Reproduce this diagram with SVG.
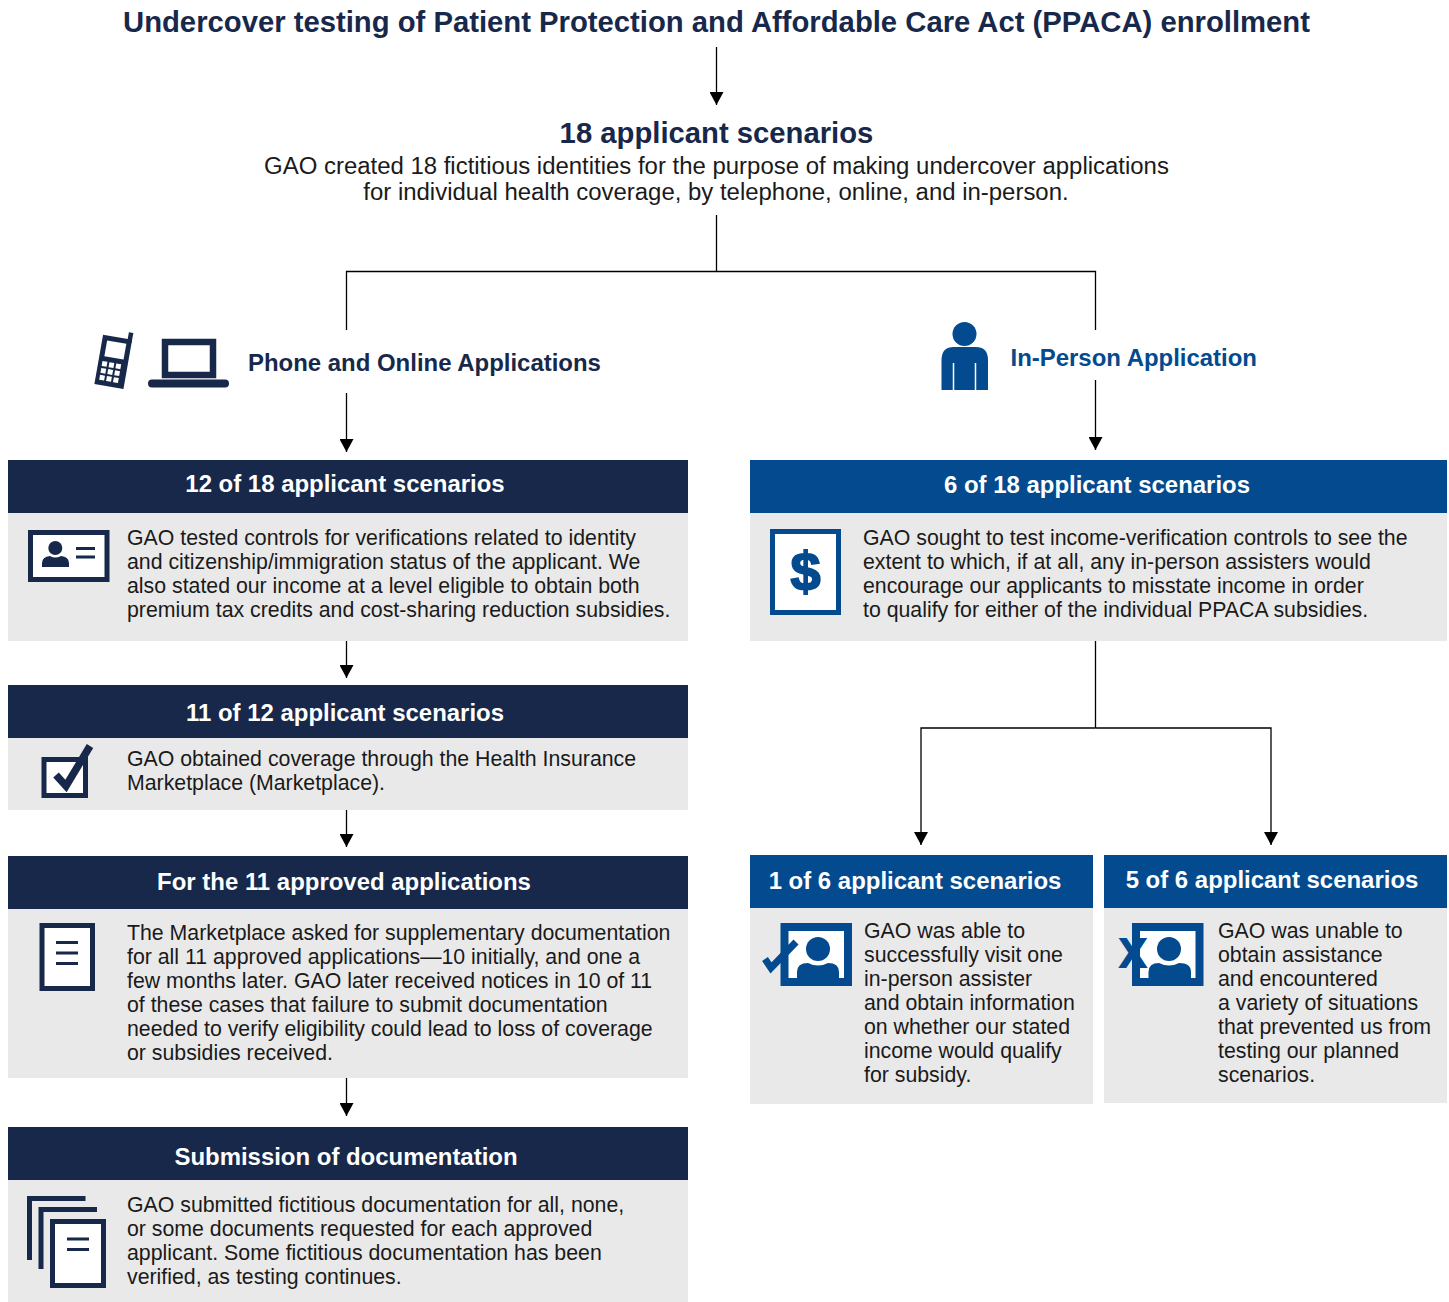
<svg xmlns="http://www.w3.org/2000/svg" width="1449" height="1302" viewBox="0 0 1449 1302">
<defs>
<marker id="arr" markerUnits="userSpaceOnUse" markerWidth="14" markerHeight="14" refX="13" refY="7" orient="auto"><path d="M0 0L13 7L0 14Z" fill="#000"/></marker>
</defs>
<style>
text{font-family:"Liberation Sans",Arial,sans-serif}
.t{font-size:21.3px;fill:#1a1a1a}
.p{font-size:23.95px;fill:#1a1a1a;text-anchor:middle}
.h{font-size:23.95px;font-weight:700;fill:#fff;text-anchor:middle}
.navy{fill:#17284b}.blue{fill:#034a8e}.body{fill:#e9e9e9}
.w{fill:#fff}
.sn{fill:none;stroke:#17284b}.sb{fill:none;stroke:#034a8e}
.c{fill:none;stroke:#000;stroke-width:1.3}
.a{marker-end:url(#arr)}
</style>
<rect width="1449" height="1302" fill="#fff"/>
<g id="title"><text x="716.5" y="32" font-size="29.25" font-weight="700" fill="#17284b" text-anchor="middle">Undercover testing of Patient Protection and Affordable Care Act (PPACA) enrollment</text></g>
<g id="scenarios18">
<text x="716.5" y="143" font-size="29.25" font-weight="700" fill="#17284b" text-anchor="middle">18 applicant scenarios</text>
<text class="p" x="716.5" y="174">GAO created 18 fictitious identities for the purpose of making undercover applications</text>
<text class="p" x="716" y="200">for individual health coverage, by telephone, online, and in-person.</text>
</g>
<g id="connectors">
<path class="c a" d="M716.500 47V105"/>
<path class="c" d="M716.500 215V271.500M346.500 330V271.500H1095.500V330"/>
<path class="c a" d="M346.500 393V452"/>
<path class="c a" d="M1095.500 380V450"/>
<path class="c a" d="M346.500 641V678"/>
<path class="c a" d="M346.500 809V847"/>
<path class="c a" d="M346.500 1078V1116"/>
<path class="c" d="M1095.500 641V728"/>
<path class="c a" d="M1095.500 728H921V845"/>
<path class="c a" d="M1095.500 728H1271V845"/>
</g>
<g id="phone-online">
<g transform="rotate(10 114 362)" class="navy">
<rect x="98.500" y="337" width="29.500" height="50"/>
<rect x="123.500" y="330" width="4.500" height="10"/>
<rect class="w" x="103.500" y="342" width="19.500" height="16"/>
<g class="w"><rect x="102.500" y="363" width="5" height="5"/><rect x="109.500" y="363" width="5" height="5"/><rect x="116.500" y="363" width="5" height="5"/><rect x="102.500" y="370" width="5" height="5"/><rect x="109.500" y="370" width="5" height="5"/><rect x="116.500" y="370" width="5" height="5"/><rect x="102.500" y="377" width="5" height="5"/><rect x="109.500" y="377" width="5" height="5"/><rect x="116.500" y="377" width="5" height="5"/></g>
</g>
<rect class="sn" x="165" y="342" width="48" height="33" stroke-width="6.500"/>
<rect class="navy" x="148" y="379.500" width="81" height="8" rx="4"/>
<text x="248" y="371" font-size="23.95" font-weight="700" fill="#17284b">Phone and Online Applications</text>
</g>
<g id="in-person">
<circle class="blue" cx="964.500" cy="334" r="12"/>
<path class="blue" d="M941.500 390V360Q941.500 347 954 347H975.500Q988 347 988 360V390Z"/>
<path d="M953.500 363V390M975.500 363V390" stroke="#fff" stroke-width="1.500"/>
<text x="1010.500" y="366" font-size="23.95" font-weight="700" fill="#034a8e">In-Person Application</text>
</g>
<g id="box-12of18">
<rect class="navy" x="8" y="460" width="680" height="53"/>
<rect class="body" x="8" y="513" width="680" height="128"/>
<text class="h" x="345" y="492">12 of 18 applicant scenarios</text>
<rect class="w" x="30.500" y="532.500" width="76.500" height="47"/><rect class="sn" x="30.500" y="532.500" width="76.500" height="47" stroke-width="5"/>
<circle class="navy" cx="55.300" cy="548" r="7"/><path class="navy" d="M42 567V563Q42 557 50 556Q55 559 61 556Q69 557 69 563V567Z"/>
<path class="sn" stroke-width="3" d="M76 548.500H95M76 557H95"/>
<text class="t" x="127" y="545">GAO tested controls for verifications related to identity</text>
<text class="t" x="127" y="569">and citizenship/immigration status of the applicant. We</text>
<text class="t" x="127" y="593">also stated our income at a level eligible to obtain both</text>
<text class="t" x="127" y="617">premium tax credits and cost-sharing reduction subsidies.</text>
</g>
<g id="box-11of12">
<rect class="navy" x="8" y="685" width="680" height="53"/>
<rect class="body" x="8" y="738" width="680" height="72"/>
<text class="h" x="345" y="721">11 of 12 applicant scenarios</text>
<rect class="w" x="44" y="759.500" width="41.500" height="36"/><rect class="sn" x="44" y="759.500" width="41.500" height="36" stroke-width="5"/>
<path class="sn" stroke-width="7.500" d="M56 775L66 786L90 746"/>
<text class="t" x="127" y="766">GAO obtained coverage through the Health Insurance</text>
<text class="t" x="127" y="790">Marketplace (Marketplace).</text>
</g>
<g id="box-approved">
<rect class="navy" x="8" y="856" width="680" height="53"/>
<rect class="body" x="8" y="909" width="680" height="169"/>
<text class="h" x="344" y="890">For the 11 approved applications</text>
<rect class="w" x="42" y="925.500" width="50.500" height="63"/><rect class="sn" x="42" y="925.500" width="50.500" height="63" stroke-width="5"/>
<path class="sn" stroke-width="3" d="M56 942.500H78M56 953H78M56 963.500H78"/>
<text class="t" x="127" y="940">The Marketplace asked for supplementary documentation</text>
<text class="t" x="127" y="964">for all 11 approved applications—10 initially, and one a</text>
<text class="t" x="127" y="988">few months later. GAO later received notices in 10 of 11</text>
<text class="t" x="127" y="1012">of these cases that failure to submit documentation</text>
<text class="t" x="127" y="1036">needed to verify eligibility could lead to loss of coverage</text>
<text class="t" x="127" y="1060">or subsidies received.</text>
</g>
<g id="box-submission">
<rect class="navy" x="8" y="1127" width="680" height="53"/>
<rect class="body" x="8" y="1180" width="680" height="122"/>
<text class="h" x="346" y="1165">Submission of documentation</text>
<path class="sn" stroke-width="5" d="M29.500 1260V1198.500H85.500M41 1269V1209.500H97"/>
<rect class="w" x="52.500" y="1221.500" width="51" height="64"/><rect class="sn" x="52.500" y="1221.500" width="51" height="64" stroke-width="5"/>
<path class="sn" stroke-width="3" d="M67 1239H89M67 1249.500H89"/>
<text class="t" x="127" y="1212">GAO submitted fictitious documentation for all, none,</text>
<text class="t" x="127" y="1236">or some documents requested for each approved</text>
<text class="t" x="127" y="1260">applicant. Some fictitious documentation has been</text>
<text class="t" x="127" y="1284">verified, as testing continues.</text>
</g>
<g id="box-6of18">
<rect class="blue" x="750" y="460" width="697" height="53"/>
<rect class="body" x="750" y="513" width="697" height="128"/>
<text class="h" x="1097" y="493">6 of 18 applicant scenarios</text>
<rect class="w" x="772.500" y="531.500" width="66" height="81"/><rect class="sb" x="772.500" y="531.500" width="66" height="81" stroke-width="5"/>
<text x="805.500" y="590" font-size="54" font-weight="700" fill="#034a8e" stroke="#034a8e" stroke-width="1.800" text-anchor="middle">$</text>
<text class="t" x="863" y="545">GAO sought to test income-verification controls to see the</text>
<text class="t" x="863" y="569">extent to which, if at all, any in-person assisters would</text>
<text class="t" x="863" y="593">encourage our applicants to misstate income in order</text>
<text class="t" x="863" y="617">to qualify for either of the individual PPACA subsidies.</text>
</g>
<g id="box-1of6">
<rect class="blue" x="750" y="855" width="343" height="53"/>
<rect class="body" x="750" y="908" width="343" height="196"/>
<text class="h" x="915" y="889">1 of 6 applicant scenarios</text>
<rect class="w" x="784.500" y="927" width="63.500" height="55"/><rect class="sb" x="784.500" y="927" width="63.500" height="55" stroke-width="8"/>
<circle class="blue" cx="818" cy="949" r="12"/><path class="blue" d="M797 978V972Q797 963 808 963Q818 968 828 963Q839 963 839 972V978Z"/>
<path class="sb" stroke-width="7" d="M765 959L771 968L796 942"/>
<text class="t" x="864" y="938">GAO was able to</text>
<text class="t" x="864" y="962">successfully visit one</text>
<text class="t" x="864" y="986">in-person assister</text>
<text class="t" x="864" y="1010">and obtain information</text>
<text class="t" x="864" y="1034">on whether our stated</text>
<text class="t" x="864" y="1058">income would qualify</text>
<text class="t" x="864" y="1082">for subsidy.</text>
</g>
<g id="box-5of6">
<rect class="blue" x="1104" y="855" width="343" height="53"/>
<rect class="body" x="1104" y="908" width="343" height="195"/>
<text class="h" x="1272" y="888">5 of 6 applicant scenarios</text>
<rect class="w" x="1136" y="927" width="63.500" height="55"/><rect class="sb" x="1136" y="927" width="63.500" height="55" stroke-width="8"/>
<circle class="blue" cx="1169" cy="949" r="12"/><path class="blue" d="M1148.500 978V972Q1148.500 963 1159 963Q1169 968 1179 963Q1191 963 1191 972V978Z"/>
<text x="1133" y="968" font-size="40" font-weight="700" fill="#034a8e" text-anchor="middle" style="font-family:'DejaVu Sans',sans-serif">X</text>
<text class="t" x="1218" y="938">GAO was unable to</text>
<text class="t" x="1218" y="962">obtain assistance</text>
<text class="t" x="1218" y="986">and encountered</text>
<text class="t" x="1218" y="1010">a variety of situations</text>
<text class="t" x="1218" y="1034">that prevented us from</text>
<text class="t" x="1218" y="1058">testing our planned</text>
<text class="t" x="1218" y="1082">scenarios.</text>
</g>
</svg>
